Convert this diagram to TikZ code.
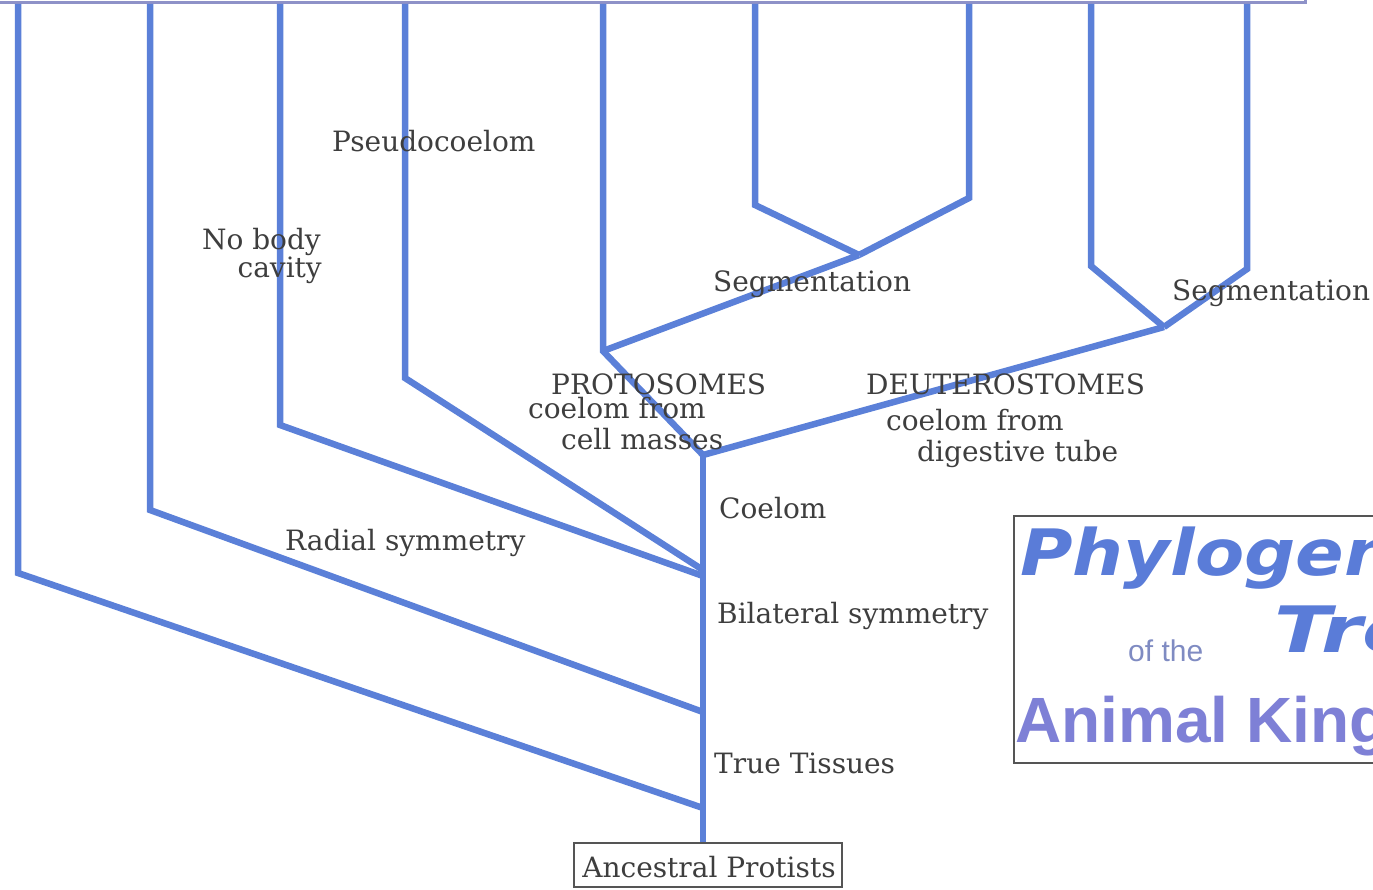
\documentclass[tikz,border=0pt]{standalone}
\usepackage{fontspec}
\setmainfont{DejaVu Serif}
\newfontfamily\titlesans{DejaVu Sans}
\newfontfamily\kingsans{Liberation Sans}
\definecolor{branch}{HTML}{5B80D8}
\definecolor{ink}{HTML}{3E3E3E}
\definecolor{boxline}{HTML}{8E92C8}
\definecolor{framegray}{HTML}{555555}
\definecolor{phylo}{HTML}{5A7CD8}
\definecolor{kingdom}{HTML}{7E80D6}
\definecolor{ofthe}{HTML}{7F8BC2}
\begin{document}
\begin{tikzpicture}[x=1pt,y=-1pt,
  branchline/.style={draw=branch,line width=6.5pt,line join=miter,line cap=butt},
  lbl/.style={text=ink,font=\fontsize{28}{30}\selectfont,inner sep=0pt,anchor=base west},
  lblr/.style={lbl,anchor=base east},
]
\useasboundingbox (0,0) rectangle (1373,890);
\begin{scope}
\clip (0,0) rectangle (1373,890);
% top box
\node[draw=boxline,line width=3pt,fill=white,minimum width=1340pt,minimum height=60pt,anchor=south east,inner sep=0pt] (topbox) at (1307,4) {};
% title box
\node[draw=framegray,line width=2pt,minimum width=420pt,minimum height=247pt,anchor=north west,inner sep=0pt] (titlebox) at (1013,515) {};
\node[text=phylo,font=\titlesans\bfseries\itshape\fontsize{64}{64}\selectfont,inner sep=0pt,anchor=base west] (phy) at (1020,575) {\scalebox{1.12}[1]{Phylogenetic}};
\node[text=phylo,font=\titlesans\bfseries\itshape\fontsize{64}{64}\selectfont,inner sep=0pt,anchor=base west] (tree) at (1274,652) {\scalebox{1.3}[1]{Tree}};
\node[text=ofthe,font=\kingsans\fontsize{30}{30}\selectfont,inner sep=0pt,anchor=base west] (ofthe) at (1128,661) {of the};
\node[text=kingdom,font=\kingsans\bfseries\fontsize{64}{64}\selectfont,inner sep=0pt,anchor=base west] (king) at (1015,742) {Animal Kingdom};
\end{scope}

% coordinates
\coordinate (l1) at (18,4);   \coordinate (b1) at (18,573);  \coordinate (r1) at (703,808);
\coordinate (l2) at (150,4);  \coordinate (b2) at (150,510); \coordinate (r2) at (703,712);
\coordinate (l3) at (280,4);  \coordinate (b3) at (280,425); \coordinate (r3) at (703,576);
\coordinate (l4) at (405,4);  \coordinate (b4) at (405,378); \coordinate (r4) at (703,570);
\coordinate (jc) at (703,455);
\coordinate (jp) at (603,351); \coordinate (l5) at (603,4);
\coordinate (js1) at (859,255);
\coordinate (k1) at (755,205); \coordinate (l6) at (755,4);
\coordinate (k2) at (969,198); \coordinate (l7) at (969,4);
\coordinate (js2) at (1164,327);
\coordinate (k3) at (1091,266); \coordinate (l8) at (1091,4);
\coordinate (k4) at (1247,269); \coordinate (l9) at (1247,4);

% root
\node[draw=framegray,line width=2pt,minimum width=268pt,minimum height=44pt,inner sep=0pt] (root) at (708,865) {};
\node[lbl,anchor=base] (rootlbl) at (709,877) {Ancestral Protists};

% branches
\draw[branchline] (l1) -- (b1) -- (r1);
\draw[branchline] (l2) -- (b2) -- (r2);
\draw[branchline] (l3) -- (b3) -- (r3);
\draw[branchline] (l4) -- (b4) -- (r4);
\draw[branchline] (root.north -| jc) -- (jc);
\draw[branchline] (jc) -- (jp) -- (l5);
\draw[branchline] (jp) -- (js1);
\draw[branchline] (js1) -- (k1) -- (l6);
\draw[branchline] (js1) -- (k2) -- (l7);
\draw[branchline] (jc) -- (js2);
\draw[branchline] (js2) -- (k3) -- (l8);
\draw[branchline] (js2) -- (k4) -- (l9);

% labels
\node[lbl] (pseudo) at (332,152) {Pseudocoelom};
\node[lblr] (nobody) at (321,250) {No body};
\node[lblr] (cavity) at (322,278) {cavity};
\node[lbl] (seg1) at (713,292) {Segmentation};
\node[lbl] (seg2) at (1172,301) {Segmentation};
\node[lbl] (proto) at (551,395) {PROTOSOMES};
\node[lbl] (pcoel) at (528,418) {coelom from};
\node[lbl] (pcell) at (561,449) {cell masses};
\node[lbl] (deut) at (866,395) {DEUTEROSTOMES};
\node[lbl] (dcoel) at (886,430) {coelom from};
\node[lbl] (ddig) at (917,461) {digestive tube};
\node[lbl] (coelom) at (719,518) {Coelom};
\node[lbl] (radial) at (285,550) {Radial symmetry};
\node[lbl] (bilat) at (717,623) {Bilateral symmetry};
\node[lbl] (tissue) at (714,773) {True Tissues};
\end{tikzpicture}
\end{document}
